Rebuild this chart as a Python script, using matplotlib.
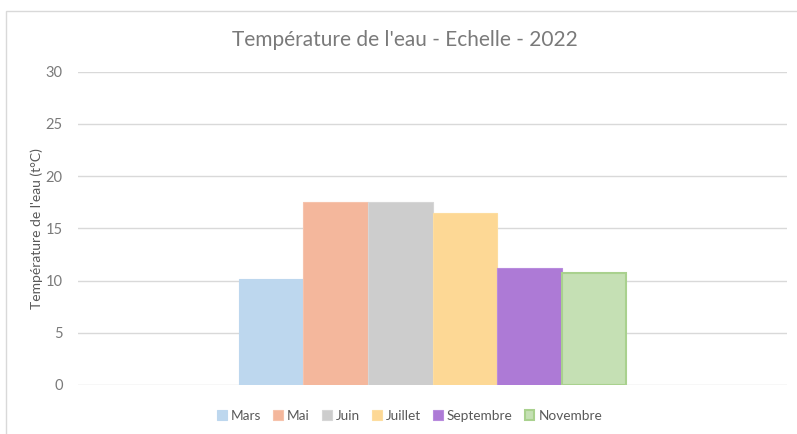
import matplotlib.pyplot as plt
from matplotlib.patches import Rectangle

# data
mois = ['Mars', 'Mai', 'Juin', 'Juillet', 'Septembre', 'Novembre']
temperatures = [10.15, 17.5, 17.55, 16.45, 11.25, 10.7]
couleurs = ['#BDD7EE', '#F4B79C', '#CDCDCD', '#FDD895', '#AD7AD6', '#C5E0B4']
bords = ['#BDD7EE', '#F6C3AC', '#D6D6D6', '#FDDDA0', '#B88BDD', '#A9D18E']
yticks = [0, 5, 10, 15, 20, 25, 30]

plt.rcParams['font.family'] = ['Lato', 'DejaVu Sans']
gris = '#7A7A7A'

fig = plt.figure(figsize=(7.97, 4.34), dpi=100)
ax = fig.add_axes([78 / 797, 1 - 385 / 434, 709 / 797, (385 - 71.7) / 434])

# chart area border
fig.patches.append(Rectangle((6 / 797, -0.1), 1.2, 1 - 11 / 434 + 0.1,
                             transform=fig.transFigure, fill=False,
                             edgecolor='#D9D9D9', linewidth=1))

w = 0.091
n = len(mois)
for i, (m, t) in enumerate(zip(mois, temperatures)):
    x = (i - (n - 1) / 2) * w
    lw = 1.5 if m == 'Novembre' else 0.8
    ax.bar(x, t, width=w, color=couleurs[i], edgecolor=bords[i],
           linewidth=lw, label=m, zorder=3)

ax.set_xlim(-0.5, 0.5)
ax.set_ylim(0, 30)
ax.set_yticks(yticks)
ax.set_xticks([])
ax.grid(axis='y', color='#D9D9D9', linewidth=1, zorder=0)
for s in ax.spines.values():
    s.set_visible(False)
ax.tick_params(axis='y', length=0, pad=11, labelsize=10.5, labelcolor=gris)
ax.set_ylabel("Température de l'eau (t°C)", fontsize=10, color='#595959')
ax.yaxis.set_label_coords(-0.05, 0.5)

fig.text(0.508, 1 - 40 / 434, "Température de l'eau - Echelle - 2022",
         ha='center', va='center', fontsize=15.0, color=gris)

fig.legend(loc='center', bbox_to_anchor=(0.514, 1 - 416 / 434), ncol=6,
           frameon=False, fontsize=9.8, handlelength=0.7, handleheight=0.7,
           handletextpad=0.3, columnspacing=0.9, labelcolor='#595959')

fig.savefig('out.png', dpi=100)
